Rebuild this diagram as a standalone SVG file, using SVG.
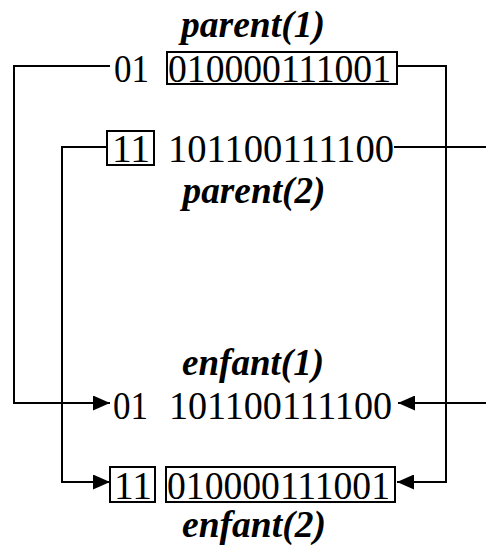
<svg xmlns="http://www.w3.org/2000/svg" width="486" height="548" viewBox="0 0 486 548">
<style>
.d{font-size:40px;fill:#000}
.l{font-size:38px;font-weight:bold;font-style:italic;fill:#000;text-anchor:middle}
.b{fill:none;stroke:#000;stroke-width:2}
.c{fill:none;stroke:#000;stroke-width:2}
</style>
<defs>
<marker id="ah" markerUnits="userSpaceOnUse" markerWidth="17" markerHeight="15" refX="17" refY="7.5" orient="auto">
<path d="M0,0 L17,7.5 L0,15 Z" fill="#000"/>
</marker>
</defs>
<g font-family="Liberation Serif, Times New Roman, Times, serif">
<g id="parent1">
<text class="l" x="253" y="37" textLength="144" lengthAdjust="spacingAndGlyphs">parent(1)</text>
<text class="d" x="114" y="82" textLength="35" lengthAdjust="spacingAndGlyphs">01</text>
<rect class="b" x="167" y="52" width="230" height="32"/>
<text class="d" x="168" y="82" textLength="223" lengthAdjust="spacingAndGlyphs">010000111001</text>
</g>
<g id="parent2">
<rect class="b" x="107" y="131" width="47" height="34"/>
<text class="d" x="112" y="162" textLength="38" lengthAdjust="spacingAndGlyphs">11</text>
<text class="d" x="168" y="162" textLength="226" lengthAdjust="spacingAndGlyphs">101100111100</text>
<text class="l" x="254" y="203" textLength="143" lengthAdjust="spacingAndGlyphs">parent(2)</text>
</g>
<g id="enfant1">
<text class="l" x="253" y="375" textLength="142" lengthAdjust="spacingAndGlyphs">enfant(1)</text>
<text class="d" x="113" y="419" textLength="35" lengthAdjust="spacingAndGlyphs">01</text>
<text class="d" x="169" y="419" textLength="223" lengthAdjust="spacingAndGlyphs">101100111100</text>
</g>
<g id="enfant2">
<rect class="b" x="110" y="467" width="45" height="35"/>
<text class="d" x="114" y="499" textLength="38" lengthAdjust="spacingAndGlyphs">11</text>
<rect class="b" x="166" y="467" width="229" height="35"/>
<text class="d" x="167" y="499" textLength="223" lengthAdjust="spacingAndGlyphs">010000111001</text>
<text class="l" x="254" y="537" textLength="144" lengthAdjust="spacingAndGlyphs">enfant(2)</text>
</g>
</g>
<g id="connectors">
<polyline class="c" points="110,66 14,66 14,403 110,403" marker-end="url(#ah)"/>
<polyline class="c" points="107,147 62,147 62,482 110,482" marker-end="url(#ah)"/>
<polyline class="c" points="397,66 446,66 446,482 397,482" marker-end="url(#ah)"/>
<line class="c" x1="394" y1="147" x2="486" y2="147"/>
<line class="c" x1="486" y1="403" x2="398" y2="403" marker-end="url(#ah)"/>
</g>
</svg>
